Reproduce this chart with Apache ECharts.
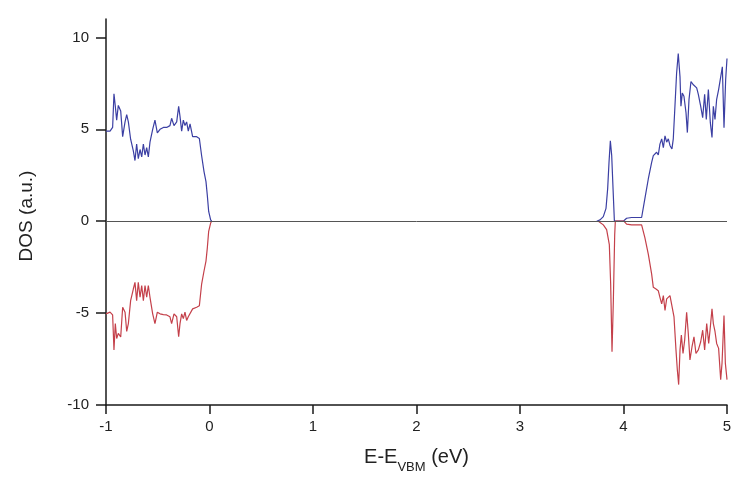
<!DOCTYPE html>
<html>
<head>
<meta charset="utf-8">
<script src="https://cdn.jsdelivr.net/npm/echarts@6/dist/echarts.min.js"></script>
<style>html,body{margin:0;padding:0;background:#fff}#c{width:739px;height:479px}</style>
</head>
<body>
<div id="c"></div>
<script>
// Energy grid for the valence-band segment (shared by both spins)
const eLeft = [-1.0,-0.961,-0.936,-0.923,-0.910,-0.897,-0.881,-0.858,-0.839,-0.816,-0.800,-0.784,-0.762,-0.736,-0.720,-0.704,-0.688,-0.671,-0.655,-0.639,-0.623,-0.607,-0.591,-0.575,-0.549,-0.527,-0.504,-0.478,-0.446,-0.414,-0.382,-0.366,-0.343,-0.317,-0.298,-0.285,-0.269,-0.253,-0.237,-0.221,-0.205,-0.188,-0.163,-0.124,-0.098,-0.076,-0.053,-0.034,-0.021,-0.008,0.011,0.021];
const upLeft = [4.9,4.9,5.1,6.93,6.25,5.5,6.3,6.0,4.6,5.4,5.8,5.4,4.46,3.83,3.3,4.2,3.4,3.9,3.5,4.2,3.6,4.0,3.5,4.3,5.0,5.5,4.8,5.0,5.1,5.1,5.2,5.6,5.2,5.4,6.25,5.7,4.9,5.5,5.2,5.4,4.9,5.3,4.6,4.6,4.5,3.56,2.7,2.15,1.4,0.53,0.07,0];
const downLeft = [-5.04,-4.95,-5.1,-7.0,-5.57,-6.38,-6.1,-6.3,-4.68,-4.95,-6.0,-5.57,-4.32,-3.69,-3.33,-4.32,-3.33,-4.14,-3.5,-4.32,-3.5,-4.14,-3.5,-4.14,-5.04,-5.57,-4.95,-5.04,-5.08,-5.1,-5.2,-5.57,-5.04,-5.2,-6.29,-5.57,-5.04,-5.3,-4.95,-5.4,-5.2,-5.3,-4.77,-4.68,-4.6,-3.42,-2.71,-2.17,-1.45,-0.55,-0.1,0];

// Conduction-band segment, spin up
const eUpRight = [3.741,3.773,3.805,3.831,3.847,3.860,3.873,3.886,3.899,3.912,3.998,4.030,4.078,4.175,4.207,4.240,4.272,4.288,4.304,4.320,4.336,4.352,4.369,4.385,4.401,4.417,4.433,4.449,4.468,4.481,4.497,4.513,4.529,4.546,4.555,4.568,4.584,4.604,4.617,4.633,4.652,4.675,4.707,4.723,4.746,4.765,4.784,4.800,4.820,4.839,4.855,4.868,4.884,4.900,4.919,4.932,4.955,4.971,4.987,5.000];
const upRight = [0,0.07,0.25,0.7,1.77,3.2,4.37,3.57,1.77,0,0,0.16,0.2,0.2,1.24,2.31,3.2,3.57,3.48,3.75,3.6,4.19,4.48,4.0,4.64,4.3,4.48,4.12,3.93,4.48,6.25,8.05,9.12,7.85,6.25,6.97,6.8,5.9,4.82,6.63,7.6,7.42,7.25,6.9,6.25,5.63,6.9,5.54,7.16,5.36,4.55,6.25,5.54,6.63,7.16,7.25,8.4,5.09,7.7,8.85];

// Conduction-band segment, spin down
const eDownRight = [3.757,3.805,3.837,3.863,3.876,3.889,3.902,3.915,3.921,4.004,4.030,4.078,4.175,4.207,4.240,4.272,4.288,4.314,4.336,4.352,4.369,4.385,4.401,4.417,4.436,4.449,4.468,4.488,4.507,4.520,4.533,4.546,4.559,4.575,4.591,4.610,4.626,4.642,4.662,4.681,4.700,4.723,4.746,4.765,4.784,4.804,4.823,4.836,4.855,4.868,4.884,4.900,4.919,4.939,4.952,4.971,4.984,5.000];
const downRight = [0,-0.2,-0.46,-1.27,-3.42,-7.1,-4.32,-0.73,0,0,-0.16,-0.2,-0.2,-0.91,-1.81,-2.88,-3.6,-3.69,-3.78,-4.14,-4.5,-4.05,-4.86,-4.23,-4.14,-4.05,-4.05,-5.21,-7.0,-8.08,-8.89,-7.0,-6.2,-7.2,-6.47,-4.95,-6.11,-7.55,-6.83,-6.29,-7.2,-7.0,-6.56,-5.93,-7.0,-5.57,-6.65,-5.93,-4.77,-5.57,-6.0,-6.65,-6.92,-8.62,-7.72,-5.13,-7.72,-8.62];

const xTicks = [-1,0,1,2,3,4,5];
const yTicks = [-10,-5,0,5,10];

const BLUE = '#3b3fa3';
const RED = '#c4404a';

function pairs(xs, ys){ return xs.map((x,i)=>[x, ys[i]]); }
function line(name, data, color){
  return {name, type:'line', data, showSymbol:false, symbol:'none', smooth:false,
    lineStyle:{color, width:1.2}, itemStyle:{color}, z:3, animation:false};
}

const chart = echarts.init(document.getElementById('c'));
const fontFam = 'Liberation Sans, Arial, sans-serif';
chart.setOption({
  animation:false,
  backgroundColor:'#fff',
  grid:{left:106, right:12, top:19, bottom:70, containLabel:false},
  xAxis:{
    type:'value', min:-1, max:5, interval:1,
    axisLine:{show:true, onZero:false, lineStyle:{color:'#1a1a1a', width:1.5}},
    axisTick:{show:true, inside:false, length:9, lineStyle:{color:'#1a1a1a', width:1.5}},
    axisLabel:{color:'#222', fontSize:15, fontFamily:fontFam, margin:14},
    splitLine:{show:false},
    name:'{a|E-E}{b|VBM}{a| (eV)}',
    nameLocation:'middle', nameGap:38,
    nameTextStyle:{color:'#222', fontFamily:fontFam,
      rich:{a:{fontSize:20, fontFamily:fontFam, color:'#222', lineHeight:24, verticalAlign:'bottom'},
            b:{fontSize:13, fontFamily:fontFam, color:'#222', lineHeight:24, verticalAlign:'bottom', padding:[0,0,-7,0]}}}
  },
  yAxis:{
    type:'value', min:-10, max:11, interval:5,
    axisLine:{show:true, onZero:false, lineStyle:{color:'#1a1a1a', width:1.5}},
    axisTick:{show:true, inside:false, length:10, lineStyle:{color:'#1a1a1a', width:1.5}, customValues:yTicks},
    axisLabel:{color:'#222', fontSize:15, fontFamily:fontFam, margin:17, customValues:yTicks},
    splitLine:{show:false},
    name:'DOS (a.u.)', nameLocation:'middle', nameGap:70,
    nameTextStyle:{color:'#222', fontSize:19, fontFamily:fontFam, padding:[0,8,0,0]}
  },
  series:[
    Object.assign(line('upLeft', pairs(eLeft, upLeft), BLUE), {
      markLine:{silent:true, symbol:'none', label:{show:false},
        lineStyle:{color:'#555', width:1, type:'solid'}, data:[{yAxis:0}], animation:false}
    }),
    line('downLeft', pairs(eLeft, downLeft), RED),
    line('upRight', pairs(eUpRight, upRight), BLUE),
    line('downRight', pairs(eDownRight, downRight), RED)
  ]
});
</script>
</body>
</html>
